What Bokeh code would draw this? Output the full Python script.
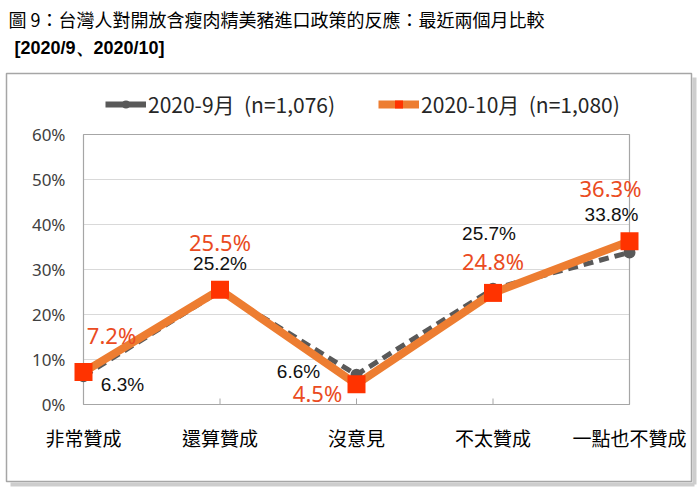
from bokeh.plotting import figure
from bokeh.models import Range1d, Legend, LegendItem, ColumnDataSource
from bokeh.core.properties import value
from bokeh.embed import file_html
from bokeh.resources import INLINE

# ---------------- data ----------------
categories = ["非常贊成", "還算贊成", "沒意見", "不太贊成", "一點也不贊成"]
sep_values = [6.3, 25.2, 6.6, 25.7, 33.8]
oct_values = [7.2, 25.5, 4.5, 24.8, 36.3]
y_ticks = [0, 10, 20, 30, 40, 50, 60]
y_tick_labels = ["0%", "10%", "20%", "30%", "40%", "50%", "60%"]
sep_name = "2020-9月  (n=1,076)"
oct_name = "2020-10月  (n=1,080)"
title_line1 = "圖 9：台灣人對開放含瘦肉精美豬進口政策的反應：最近兩個月比較"
title_line2 = "[2020/9、2020/10]"

# label placement (screen pixel offsets from the point)
sep_dx = [39, 0, -58, -4, -18]
sep_dy = [8, -28, -3, -55, -38]
oct_dx = [28, 0, -39, 0, -19]
oct_dy = [-37, -48, 9, -32, -53]

CJK = "Noto Sans CJK TC"
GRAY = "#595959"
ORANGE = "#ED7D31"
RED = "#FF3300"
LABEL_RED = "#EA4B22"
W, H = 700, 489

# pixel layout -> data coordinates (plot area: x 0..4 at px 83..629, y 0..60 at px 404..134)
PX0, PXU = 83.0, 136.5
PY0, PYU = 404.0, 4.5
def ux(px):
    return (px - PX0) / PXU
def vy(py):
    return (PY0 - py) / PYU

xs = list(range(len(categories)))

p = figure(width=W, height=H, output_backend="svg", toolbar_location=None,
           x_range=Range1d(ux(0), ux(W)), y_range=Range1d(vy(H), vy(0)),
           min_border=0)
p.outline_line_color = None
p.xaxis.visible = False
p.yaxis.visible = False
p.xgrid.visible = False
p.ygrid.visible = False
p.background_fill_color = "white"
p.border_fill_color = "white"

# chart box with shadow (right / bottom)
p.segment(x0=[ux(694), ux(10)], y0=[vy(77), vy(484)],
          x1=[ux(694), ux(694)], y1=[vy(484), vy(484)],
          line_color="#CDCDCD", line_width=4)
p.quad(left=[ux(6)], right=[ux(691)], top=[vy(73)], bottom=[vy(481)],
       fill_color=None, line_color="#A6A6A6", line_width=1.5)

# gridlines and plot box
grid_y = y_ticks[1:-1]
p.segment(x0=[xs[0]] * len(grid_y), x1=[xs[-1]] * len(grid_y), y0=grid_y, y1=grid_y,
          line_color="#D9D9D9", line_width=1)
p.quad(left=[xs[0]], right=[xs[-1]], bottom=[y_ticks[0]], top=[y_ticks[-1]],
       fill_color=None, line_color="#A6A6A6", line_width=1.2)
# category tick marks (inside, at the bottom)
p.segment(x0=xs, x1=xs, y0=[y_ticks[0]] * len(xs), y1=[y_ticks[0] + 6 / PYU] * len(xs),
          line_color="#A6A6A6", line_width=1)

# y tick labels
p.text(x=[ux(65)] * len(y_ticks), y=y_ticks, text=y_tick_labels,
       text_align="right", text_baseline="middle", text_color="#404040",
       text_font=value("Noto Sans"), text_font_size="17px")
# category labels
p.text(x=xs, y=[vy(437)] * len(xs), text=categories,
       text_align="center", text_baseline="middle", text_color="#000000",
       text_font=value(CJK), text_font_size="19px")

# series
p.line(xs, sep_values, line_color=GRAY, line_width=5, line_dash="10 6")
p.scatter(xs, sep_values, marker="circle", size=12, fill_color=GRAY, line_color=None)
p.line(xs, oct_values, line_color=ORANGE, line_width=8)
p.scatter(xs, oct_values, marker="square", size=18, fill_color=RED, line_color=None)

# data labels
sep_src = ColumnDataSource(dict(x=xs, y=sep_values,
                                t=[f"{v:.1f}%" for v in sep_values],
                                dx=sep_dx, dy=sep_dy))
oct_src = ColumnDataSource(dict(x=xs, y=oct_values,
                                t=[f"{v:.1f}%" for v in oct_values],
                                dx=oct_dx, dy=oct_dy))
p.text(x="x", y="y", text="t", x_offset="dx", y_offset="dy", source=sep_src,
       text_align="center", text_baseline="middle", text_color="#111111",
       text_font=value("Liberation Sans"), text_font_size="19px")
p.text(x="x", y="y", text="t", x_offset="dx", y_offset="dy", source=oct_src,
       text_align="center", text_baseline="middle", text_color=LABEL_RED,
       text_font=value("Noto Sans"), text_font_size="22px")

# titles
p.text(x=[ux(8)], y=[vy(18)], text=[title_line1], text_align="left",
       text_baseline="middle", text_font=value(CJK), text_font_size="18px",
       text_color="#000000")
p.text(x=[ux(14)], y=[vy(47)], text=[title_line2], text_align="left",
       text_baseline="middle", text_font=value("Liberation Sans"),
       text_font_style="bold", text_font_size="18px", text_color="#000000")

# legend (proxy renderers placed outside the visible range, solid styling)
far_x = [-10, -9]
far_y = [-100, -100]
lg1 = p.line(far_x, far_y, line_color=GRAY, line_width=6)
lg1m = p.scatter(far_x[:1], far_y[:1], marker="circle", size=11, fill_color=GRAY, line_color=None)
lg2 = p.line(far_x, far_y, line_color=ORANGE, line_width=8)
lg2m = p.scatter(far_x[:1], far_y[:1], marker="square", size=11, fill_color=RED, line_color=None)
legend = Legend(items=[LegendItem(label=sep_name, renderers=[lg1, lg1m]),
                       LegendItem(label=oct_name, renderers=[lg2, lg2m])],
                orientation="horizontal", location=(105, H - 119),
                glyph_width=41, glyph_height=20, label_height=20,
                label_standoff=2, spacing=43, padding=0, margin=0,
                border_line_color=None, background_fill_alpha=0,
                label_text_font=CJK, label_text_font_size="21px",
                label_text_color="#262626")
p.add_layout(legend)

open("out.html", "w").write(file_html(p, INLINE))
